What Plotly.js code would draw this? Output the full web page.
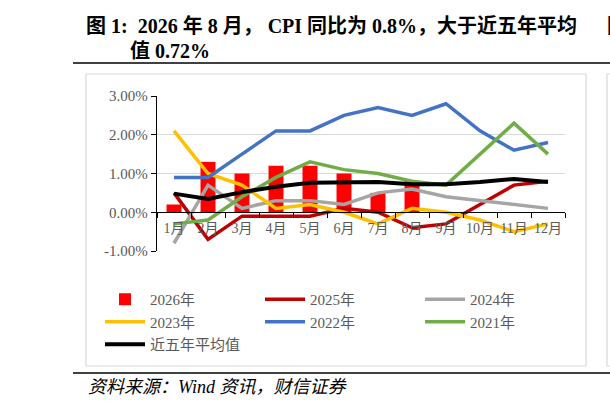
<!DOCTYPE html>
<html>
<head>
<meta charset="utf-8">
<script src="https://cdn.plot.ly/plotly-3.0.1.min.js"></script>
<style>
  html, body { margin: 0; padding: 0; background: #fff; overflow: hidden; }
  #chart { width: 610px; height: 407px; }
</style>
</head>
<body>
<div id="chart"></div>
<script>
// CPI year-on-year by month, in percent
const months = ['1月', '2月', '3月', '4月', '5月', '6月', '7月', '8月', '9月', '10月', '11月', '12月'];
const cpi2026 = [0.2, 1.3, 1.0, 1.2, 1.2, 1.0, 0.5, 0.8];
const cpi2025 = [0.5, -0.7, -0.1, -0.1, -0.1, 0.1, 0.0, -0.4, -0.3, 0.2, 0.7, 0.8];
const cpi2024 = [-0.8, 0.7, 0.1, 0.3, 0.3, 0.2, 0.5, 0.6, 0.4, 0.3, 0.2, 0.1];
const cpi2023 = [2.1, 1.0, 0.7, 0.1, 0.2, 0.0, -0.3, 0.1, 0.0, -0.2, -0.5, -0.3];
const cpi2022 = [0.9, 0.9, 1.5, 2.1, 2.1, 2.5, 2.7, 2.5, 2.8, 2.1, 1.6, 1.8];
const cpi2021 = [-0.3, -0.2, 0.4, 0.9, 1.3, 1.1, 1.0, 0.8, 0.7, 1.5, 2.3, 1.5];
const avg5y = [0.48, 0.34, 0.52, 0.66, 0.76, 0.78, 0.78, 0.72, 0.72, 0.78, 0.86, 0.78];
const yTicks = [-1, 0, 1, 2, 3];

const serif = '"Liberation Serif", "Noto Sans CJK SC", serif';
const gray = '#595959';
const sp = '\u00A0';

// plot area in pixels: left 157, right 565, top 96, bottom 251
const L = 157, R = 565, T = 96, B = 251;
const px = (x) => (x - L) / (R - L);
const py = (y) => (B - y) / (B - T);

function line(name, y, color, width) {
  return {
    type: 'scatter', mode: 'lines', name: name,
    x: months.slice(0, y.length), y: y,
    line: { color: color, width: width || 3.5 },
    hoverinfo: 'skip'
  };
}

const traces = [
  {
    type: 'bar', name: '2026年',
    x: months.slice(0, cpi2026.length), y: cpi2026,
    marker: { color: '#FF0000' }, width: 0.44, hoverinfo: 'skip'
  },
  line('2025年', cpi2025, '#C00000'),
  line('2024年', cpi2024, '#A5A5A5'),
  line('2023年', cpi2023, '#FFC000'),
  line('2022年', cpi2022, '#4472C4'),
  line('2021年', cpi2021, '#70AD47'),
  line('近五年平均值', avg5y, '#000000', 4)
];

const titleLine1 = '图' + sp + '1:' + sp + sp + '2026' + sp + '年' + sp + '8' + sp + '月，' + sp + 'CPI' + sp +
  '同比为' + sp + '0.8%，大于近五年平均';
const titleLine2 = '值' + sp + '0.72%';

const layout = {
  width: 610, height: 407,
  margin: { l: L, r: 610 - R, t: T, b: 407 - B },
  paper_bgcolor: '#fff', plot_bgcolor: 'rgba(0,0,0,0)',
  font: { family: serif, color: gray, size: 14 },
  showlegend: true,
  legend: {
    orientation: 'h', x: px(100), xanchor: 'left', y: py(283), yanchor: 'top',
    entrywidth: 105, entrywidthmode: 'pixels', itemwidth: 40,
    font: { family: serif, size: 15, color: gray },
    bgcolor: 'rgba(0,0,0,0)', traceorder: 'normal'
  },
  xaxis: {
    type: 'category', categoryarray: months, range: [-0.5, 11.5],
    anchor: 'free', position: py(212),
    showline: true, linecolor: '#000', linewidth: 1.2,
    ticks: 'outside', tickson: 'boundaries', ticklen: 5, tickcolor: '#000',
    ticklabelstandoff: 3,
    showgrid: false, zeroline: false, tickangle: 0,
    tickfont: { family: serif, size: 14, color: gray }
  },
  yaxis: {
    range: [-1, 3], tickvals: yTicks, ticktext: yTicks.map((v) => v.toFixed(2) + '%'),
    showline: true, linecolor: '#000', linewidth: 1.2,
    ticks: 'outside', ticklen: 5, tickcolor: '#000',
    showgrid: true, gridcolor: '#D9D9D9', gridwidth: 1, zeroline: false,
    tickfont: { family: serif, size: 15, color: gray }
  },
  shapes: [
    { type: 'line', xref: 'paper', yref: 'paper', x0: px(73), x1: px(612), y0: py(63), y1: py(63),
      line: { color: '#000', width: 1.5 } },
    { type: 'rect', xref: 'paper', yref: 'paper', x0: px(86), x1: px(586), y0: py(74), y1: py(366),
      line: { color: '#D9D9D9', width: 1.2 }, layer: 'below' },
    { type: 'rect', xref: 'paper', yref: 'paper', x0: px(607), x1: px(640), y0: py(74), y1: py(366),
      line: { color: '#D9D9D9', width: 1.2 }, layer: 'below' },
    { type: 'line', xref: 'paper', yref: 'paper', x0: px(73), x1: px(612), y0: py(373), y1: py(373),
      line: { color: '#000', width: 1.5 } }
  ],
  annotations: [
    { xref: 'paper', yref: 'paper', x: px(84), y: py(26), xanchor: 'left', yanchor: 'middle',
      showarrow: false, text: '<b>' + titleLine1 + '</b>',
      font: { family: serif, size: 20, color: '#000' } },
    { xref: 'paper', yref: 'paper', x: px(128), y: py(51), xanchor: 'left', yanchor: 'middle',
      showarrow: false, text: '<b>' + titleLine2 + '</b>',
      font: { family: serif, size: 20, color: '#000' } },
    { xref: 'paper', yref: 'paper', x: px(605), y: py(26), xanchor: 'left', yanchor: 'middle',
      showarrow: false, text: '<b>图</b>',
      font: { family: serif, size: 20, color: '#000' } },
    { xref: 'paper', yref: 'paper', x: px(86), y: py(387), xanchor: 'left', yanchor: 'middle',
      showarrow: false, text: '<i>资料来源：Wind 资讯，财信证券</i>',
      font: { family: serif, size: 18, color: '#000' } }
  ]
};

Plotly.newPlot('chart', traces, layout, { displayModeBar: false, staticPlot: true });
</script>
</body>
</html>
